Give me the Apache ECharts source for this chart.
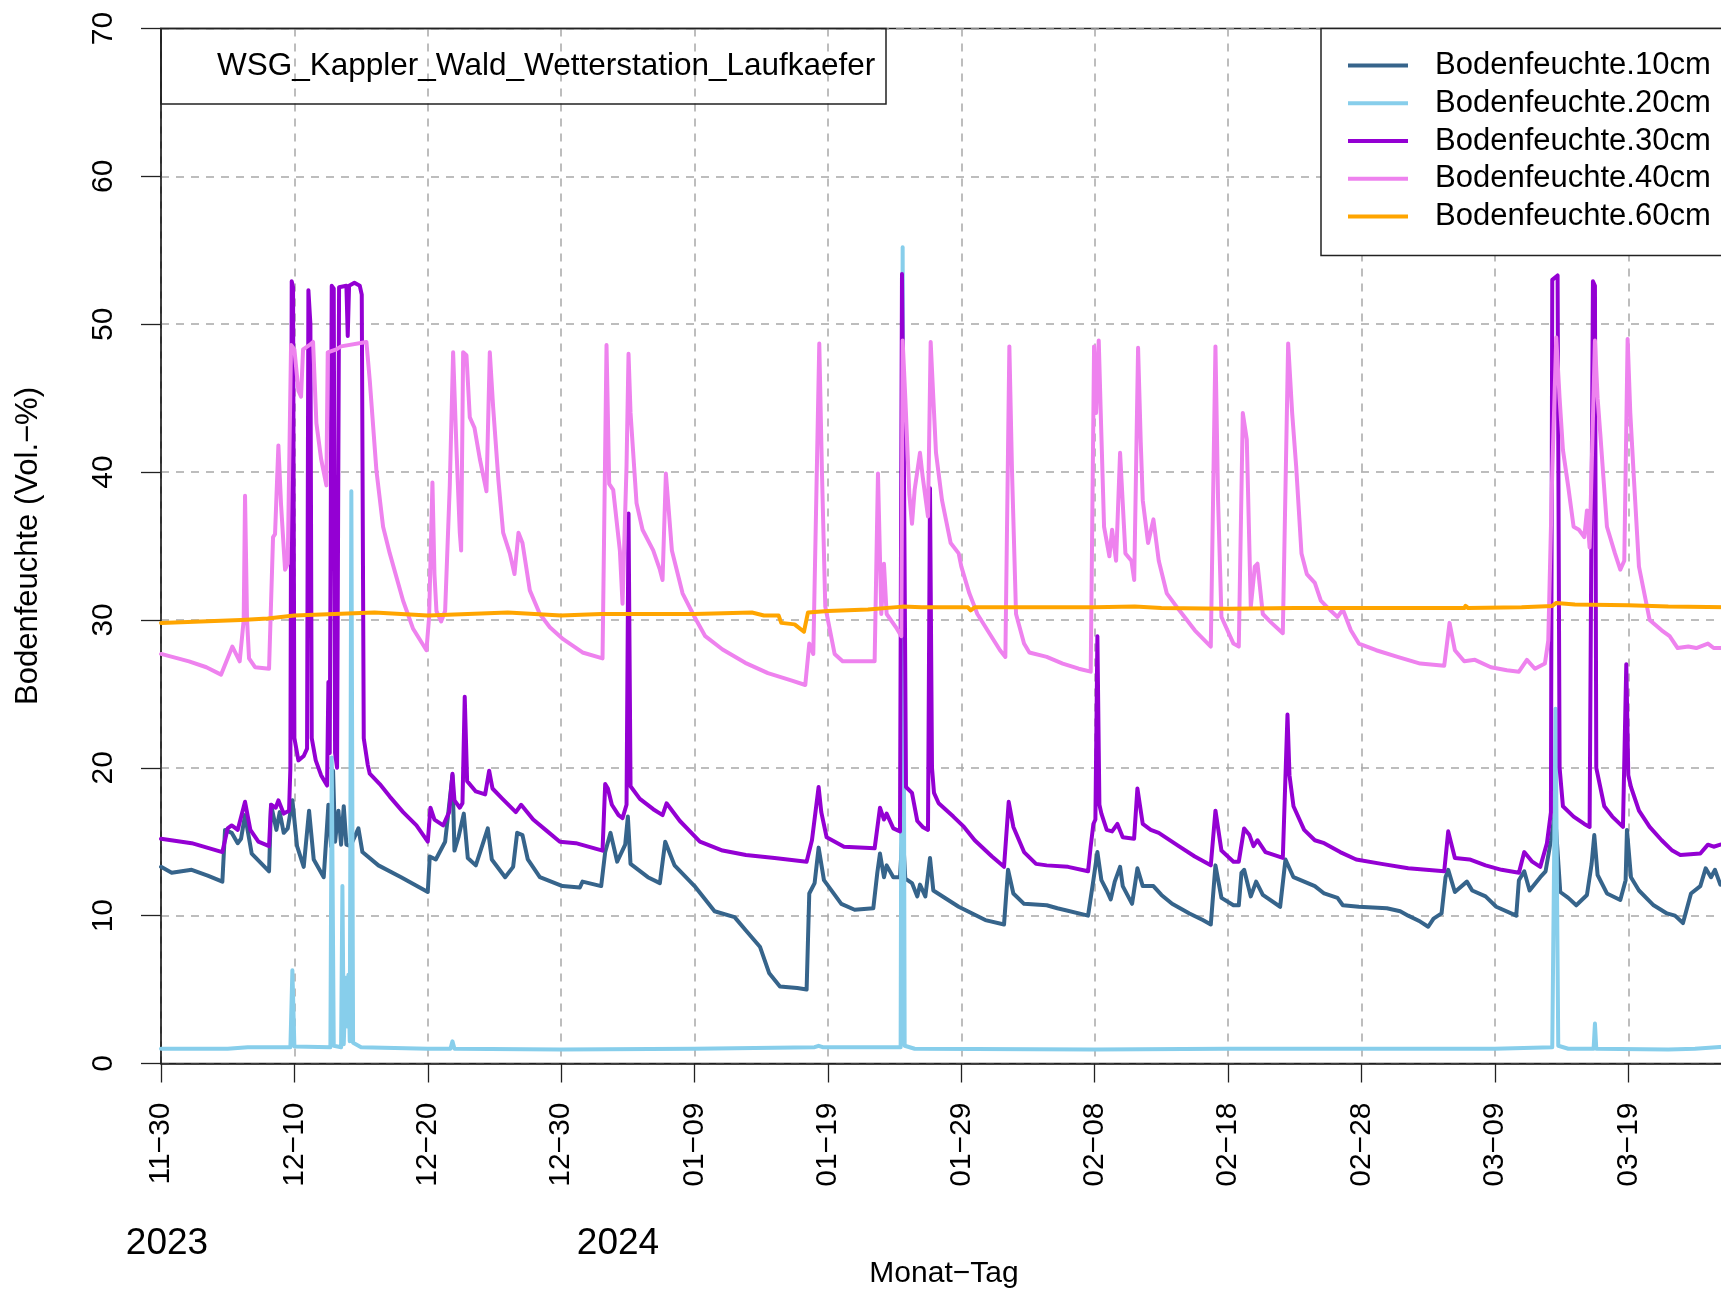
<!DOCTYPE html>
<html>
<head>
<meta charset="utf-8">
<script src="https://cdn.jsdelivr.net/npm/echarts@6.0.0/dist/echarts.min.js"></script>
</head>
<body style="margin:0; overflow:hidden; background:#fff">
<div id="container" style="width:1730px; height:1292px"></div>
<script>
// x = Tage seit 2023-11-30, y = Bodenfeuchte (Vol.-%)
var tickLabels = ['11\u221230', '12\u221210', '12\u221220', '12\u221230', '01\u221209', '01\u221219',
                  '01\u221229', '02\u221208', '02\u221218', '02\u221228', '03\u221209', '03\u221219'];
var seriesNames = ['Bodenfeuchte.10cm', 'Bodenfeuchte.20cm', 'Bodenfeuchte.30cm', 'Bodenfeuchte.40cm', 'Bodenfeuchte.60cm'];
var seriesColors = ['#36648B', '#87CEEB', '#9400D3', '#EE82EE', '#FFA500'];

var bf10 = [[0,13.3],[0.8,12.9],[2.3,13.1],[3.5,12.7],[4.6,12.3],[4.8,15.8],[5.3,15.6],[5.75,14.9],[6.0,15.2],[6.3,16.8],[6.8,14.2],[8.1,13.0],[8.25,17.5],[8.65,15.8],[8.9,17.0],[9.2,15.6],[9.5,15.9],[9.85,17.8],[10.2,14.7],[10.7,13.3],[11.1,17.1],[11.45,13.8],[12.2,12.6],[12.55,17.5],[12.75,14.7],[12.9,19.8],[13.05,15.0],[13.3,17.1],[13.5,14.8],[13.7,17.4],[13.9,14.8],[14.2,14.7],[14.8,15.9],[15.1,14.3],[16.3,13.4],[18.0,12.6],[20.0,11.6],[20.15,14.0],[20.6,13.8],[21.3,15.0],[21.85,19.5],[22.0,14.4],[22.3,15.3],[22.7,16.9],[23.0,13.9],[23.6,13.4],[24.5,15.9],[24.8,13.8],[25.8,12.6],[26.4,13.3],[26.7,15.6],[27.1,15.45],[27.5,13.8],[28.4,12.6],[30.1,12.0],[31.4,11.9],[31.6,12.3],[33.0,12.0],[33.3,14.3],[33.7,15.6],[34.2,13.65],[34.8,14.8],[35.0,16.7],[35.2,13.5],[36.5,12.6],[37.4,12.2],[37.8,15.0],[38.5,13.4],[40.0,12.0],[41.5,10.3],[43.0,9.9],[43.85,9.0],[44.9,7.9],[45.6,6.1],[46.4,5.2],[47.7,5.1],[48.4,5.0],[48.6,11.5],[49.0,12.2],[49.3,14.6],[49.7,12.4],[51.0,10.8],[52.0,10.4],[53.4,10.5],[53.7,12.9],[53.9,14.2],[54.2,12.6],[54.4,13.4],[54.9,12.6],[55.4,12.6],[55.6,15.8],[55.8,12.5],[56.3,12.2],[56.7,11.3],[56.9,12.1],[57.3,11.3],[57.65,13.9],[57.9,11.7],[59.8,10.6],[61.8,9.7],[63.2,9.4],[63.5,13.1],[63.9,11.5],[64.7,10.8],[66.4,10.7],[67.2,10.5],[69.5,10.0],[69.9,12.4],[70.2,14.3],[70.5,12.4],[70.9,11.7],[71.2,11.1],[71.5,12.3],[71.9,13.3],[72.1,12.0],[72.8,10.8],[73.2,13.2],[73.6,12.0],[74.4,12.0],[75.0,11.4],[75.8,10.8],[77.1,10.15],[78.1,9.7],[78.7,9.4],[79.05,13.4],[79.5,11.2],[80.4,10.7],[80.8,10.7],[81.0,12.9],[81.2,13.1],[81.7,11.3],[82.1,12.3],[82.6,11.4],[83.9,10.6],[84.3,13.8],[84.9,12.6],[86.5,12.0],[87.2,11.5],[88.2,11.2],[88.6,10.7],[89.8,10.6],[91.9,10.5],[92.9,10.3],[93.5,10.0],[94.4,9.6],[95.0,9.25],[95.4,9.8],[96.0,10.15],[96.3,12.6],[96.5,13.1],[97.0,11.6],[97.9,12.3],[98.3,11.7],[99.3,11.3],[100.1,10.6],[101.6,10.0],[101.8,12.4],[102.2,13.0],[102.6,11.7],[103.4,12.6],[103.8,13.0],[104.2,15.1],[104.5,17.0],[104.9,11.6],[105.5,11.2],[106.1,10.7],[106.9,11.4],[107.25,13.5],[107.45,15.45],[107.7,12.75],[108.4,11.5],[109.4,11.06],[109.8,12.4],[109.9,15.8],[110.2,12.6],[110.8,11.7],[111.9,10.7],[112.9,10.15],[113.5,10.0],[114.1,9.5],[114.7,11.5],[115.4,12.0],[115.8,13.2],[116.2,12.6],[116.5,13.1],[116.9,12.1],[117.4,12.6]];

var bf20 = [[0,1.0],[5,1.0],[6.5,1.1],[9.7,1.1],[9.85,6.3],[10.0,1.15],[12.7,1.1],[12.8,20.7],[12.95,1.2],[13.5,1.1],[13.6,12.0],[13.7,1.3],[13.85,5.8],[13.95,2.5],[14.05,6.0],[14.15,1.5],[14.27,38.7],[14.4,1.4],[15,1.1],[20,1.0],[21.7,1.0],[21.85,1.5],[22,1.0],[30,0.95],[40,1.0],[49,1.1],[49.3,1.2],[49.6,1.1],[55.45,1.1],[55.6,55.2],[55.75,1.2],[56.5,1.0],[70,0.95],[80,1.0],[90,1.0],[100,1.0],[104.3,1.1],[104.55,24],[104.75,1.2],[105.5,1.0],[107.4,1.0],[107.5,2.7],[107.6,1.0],[113,0.95],[115,1.0],[117.4,1.15]];

var bf30 = [[0,15.2],[2.3,14.9],[4.6,14.3],[5.0,15.9],[5.3,16.1],[5.75,15.8],[6.3,17.7],[6.7,15.8],[7.3,15.0],[8.1,14.7],[8.25,17.5],[8.6,17.3],[8.8,17.8],[9.2,16.9],[9.6,17.1],[9.7,20],[9.8,52.9],[9.9,52.5],[10.0,22.0],[10.3,20.5],[10.7,20.8],[10.95,21.3],[11.05,52.3],[11.2,50],[11.3,22.0],[11.6,20.5],[12.0,19.5],[12.45,18.8],[12.55,25.8],[12.65,21.0],[12.8,52.6],[12.95,52.4],[13.05,21.0],[13.2,20.0],[13.35,52.5],[13.9,52.6],[14.0,49.2],[14.1,52.6],[14.5,52.8],[14.9,52.6],[15.05,52.0],[15.2,22.0],[15.5,20.2],[15.65,19.6],[16.4,18.9],[17.15,18.05],[18.15,17.0],[19.15,16.1],[20.0,15.0],[20.2,17.3],[20.5,16.5],[21.15,16.1],[21.6,17.0],[21.85,19.6],[22.0,17.8],[22.4,17.3],[22.6,17.6],[22.77,24.8],[22.95,19.1],[23.6,18.4],[24.3,18.2],[24.6,19.8],[24.85,18.6],[25.6,17.9],[26.6,17.0],[27.0,17.5],[27.9,16.5],[28.9,15.75],[29.9,15.0],[31.1,14.9],[33.1,14.4],[33.3,18.9],[33.5,18.6],[33.8,17.5],[34.3,16.8],[34.6,16.6],[34.9,17.5],[35.05,37.2],[35.2,18.75],[35.9,17.9],[36.9,17.2],[37.6,16.8],[37.9,17.6],[38.9,16.4],[40.4,15.0],[42.1,14.4],[43.85,14.1],[46.0,13.9],[48.4,13.65],[48.8,15.1],[49.3,18.7],[49.5,17.0],[49.9,15.3],[51.2,14.66],[53.5,14.55],[53.9,17.3],[54.2,16.5],[54.4,16.9],[54.9,15.9],[55.4,15.7],[55.55,53.4],[55.7,40],[55.85,18.7],[56.3,18.3],[56.7,16.4],[57.1,16.0],[57.5,15.8],[57.65,38.9],[57.8,20],[57.95,18.3],[58.3,17.6],[59.4,16.7],[60.2,16.0],[61.0,15.1],[62.3,14.0],[63.2,13.3],[63.55,17.7],[63.9,16.0],[64.7,14.3],[65.6,13.5],[66.4,13.4],[68.0,13.3],[69.5,13.0],[69.7,14.7],[69.9,16.2],[70.05,16.5],[70.2,28.9],[70.35,17.5],[70.5,16.9],[70.9,15.8],[71.3,15.7],[71.7,16.2],[72.1,15.3],[72.95,15.2],[73.2,18.6],[73.6,16.2],[74.2,15.8],[74.8,15.6],[76.3,14.7],[77.5,14.0],[78.7,13.4],[79.05,17.1],[79.5,14.4],[80.4,13.65],[80.8,13.65],[81.2,15.9],[81.6,15.45],[81.9,14.7],[82.2,15.1],[82.8,14.3],[84.1,13.9],[84.45,23.6],[84.6,19.5],[84.9,17.4],[85.7,15.8],[86.5,15.1],[87.2,14.9],[88.4,14.3],[89.6,13.8],[91.5,13.5],[93.5,13.2],[96.2,13.0],[96.5,15.7],[97.0,13.9],[98.1,13.8],[99.3,13.4],[100.5,13.1],[101.8,12.9],[102.2,14.3],[102.8,13.65],[103.4,13.3],[103.9,14.9],[104.2,17.0],[104.3,53.0],[104.7,53.3],[104.85,20],[105.1,17.4],[105.9,16.7],[106.7,16.2],[107.1,16.0],[107.35,52.9],[107.5,52.6],[107.6,20],[108.2,17.4],[108.8,16.7],[109.6,16.0],[109.85,27.0],[110.0,19.5],[110.2,18.7],[110.8,17.1],[111.6,16.0],[112.5,15.1],[113.3,14.4],[113.9,14.1],[115.4,14.2],[115.97,14.8],[116.4,14.66],[116.9,14.8],[117.4,14.9]];

var bf40 = [[0,27.7],[2.1,27.2],[3.4,26.8],[4.5,26.3],[5.35,28.2],[5.9,27.2],[6.2,30],[6.3,38.4],[6.45,30],[6.6,27.4],[7.05,26.8],[8.1,26.7],[8.4,35.6],[8.55,35.8],[8.8,41.8],[9.0,37.8],[9.3,33.4],[9.5,33.8],[9.75,48.6],[10.0,48.3],[10.3,45.5],[10.5,45.1],[10.65,48.3],[11.15,48.6],[11.4,48.8],[11.65,43.3],[12.0,40.9],[12.4,39.1],[12.5,48.1],[13.15,48.3],[13.5,48.5],[15.4,48.8],[15.65,46.2],[16.15,40.1],[16.65,36.3],[17.15,34.5],[18.15,31.3],[18.9,29.4],[19.9,27.95],[20.1,30.2],[20.35,39.3],[20.5,33.1],[20.65,30.6],[21.0,29.9],[21.3,30.6],[21.65,39.1],[21.9,48.1],[22.15,41.6],[22.4,35.9],[22.5,34.7],[22.65,48.1],[22.9,47.9],[23.15,43.7],[23.5,43.0],[23.9,40.9],[24.4,38.7],[24.65,48.1],[24.9,44.4],[25.3,39.4],[25.65,35.9],[26.15,34.5],[26.5,33.1],[26.8,35.9],[27.1,35.2],[27.65,32.0],[28.4,30.4],[29.15,29.5],[30.15,28.7],[31.6,27.8],[33.1,27.4],[33.4,48.6],[33.6,39.2],[33.9,38.8],[34.4,34.7],[34.6,31.1],[34.9,40.4],[35.05,48.0],[35.2,44],[35.65,37.9],[36.1,36.1],[36.9,34.7],[37.4,33.4],[37.6,32.7],[37.85,39.9],[38.3,34.7],[39.1,31.8],[40.0,30.2],[40.8,28.9],[42.1,28.0],[43.8,27.1],[45.5,26.4],[47.3,25.9],[48.3,25.6],[48.6,28.4],[48.9,27.7],[49.35,48.7],[49.55,40],[49.8,30.9],[50.5,27.7],[51.1,27.2],[53.5,27.2],[53.75,39.9],[54.0,30.4],[54.2,33.8],[54.4,30.4],[55.1,29.5],[55.5,28.9],[55.6,48.9],[55.8,45],[56.1,38.5],[56.3,36.5],[56.5,38.8],[56.9,41.3],[57.1,39.7],[57.5,37.0],[57.7,48.8],[57.9,45],[58.1,41.3],[58.55,38.1],[59.2,35.2],[59.8,34.5],[60.0,33.6],[60.6,31.8],[61.2,30.4],[62.1,29.1],[62.9,27.95],[63.3,27.5],[63.6,48.5],[63.8,40],[64.1,30.4],[64.7,28.4],[65.1,27.8],[66.4,27.5],[67.6,27.05],[68.8,26.7],[69.7,26.5],[69.95,48.5],[70.1,44],[70.3,48.9],[70.45,44],[70.7,36.3],[71.1,34.3],[71.3,36.1],[71.6,34.0],[71.9,41.3],[72.3,34.5],[72.75,34.0],[72.96,32.7],[73.25,48.4],[73.45,42],[73.6,38.1],[74.0,35.2],[74.4,36.8],[74.8,34.0],[75.4,31.8],[76.3,30.7],[77.5,29.3],[78.7,28.2],[79.05,48.5],[79.25,38],[79.5,30.2],[80.4,28.4],[80.8,28.2],[81.1,44.0],[81.4,42.2],[81.7,30.9],[82.0,33.6],[82.2,33.8],[82.6,30.4],[83.25,29.8],[84.1,29.1],[84.5,48.7],[84.8,44],[85.1,40.4],[85.5,34.5],[85.9,33.1],[86.5,32.5],[86.95,31.3],[87.6,30.7],[88.2,30.2],[88.6,30.7],[89.2,29.3],[89.8,28.4],[91.1,27.95],[92.7,27.5],[94.4,27.05],[96.2,26.9],[96.6,29.8],[97.0,27.95],[97.7,27.2],[98.5,27.3],[99.7,26.8],[100.9,26.6],[101.8,26.5],[102.4,27.3],[103.0,26.7],[103.75,27.05],[104.0,28.6],[104.3,40],[104.6,49.1],[104.85,45],[105.1,41.5],[105.5,39.0],[105.9,36.3],[106.3,36.1],[106.7,35.6],[106.9,37.4],[107.1,34.9],[107.5,48.9],[107.7,45],[107.9,42.6],[108.4,36.3],[109.0,34.5],[109.4,33.4],[109.7,34.0],[109.95,49.0],[110.15,44],[110.4,39.9],[110.8,33.6],[111.6,30.0],[112.5,29.3],[113.1,28.9],[113.7,28.1],[114.5,28.2],[115.1,28.1],[115.97,28.4],[116.4,28.1],[117.4,28.1]];

var bf60 = [[0,29.8],[3,29.9],[6,30.0],[8,30.1],[10,30.3],[13,30.4],[16,30.5],[20,30.3],[23,30.4],[26,30.5],[30,30.3],[33,30.4],[36,30.4],[40,30.4],[44.3,30.5],[45.2,30.3],[46.3,30.3],[46.5,29.8],[47.5,29.7],[48.2,29.2],[48.5,30.5],[50,30.6],[53,30.7],[55.6,30.9],[57,30.85],[60.5,30.85],[60.7,30.65],[61,30.85],[65,30.85],[70,30.85],[73,30.9],[75,30.8],[80,30.75],[85,30.8],[90,30.8],[95,30.8],[97.7,30.8],[97.8,30.95],[98,30.8],[102,30.85],[104.3,30.95],[104.6,31.15],[106,31.05],[110,31.0],[113,30.9],[117.4,30.85]];

var FONT = '"Liberation Sans", Arial, sans-serif';
var dataSets = [bf10, bf20, bf30, bf40, bf60];

var dom = document.getElementById('container');
var myChart = echarts.init(dom);

var option = {
    animation: false,
    backgroundColor: '#fff',
    color: seriesColors,
    grid: {
        left: 161, right: 3, top: 28.5, bottom: 228.5,
        outerBoundsMode: 'none', containLabel: false,
        show: true, borderColor: '#222', borderWidth: 1.5, backgroundColor: 'transparent'
    },
    legend: {
        left: 1321, top: 28.5, orient: 'vertical',
        icon: 'rect', itemWidth: 60, itemHeight: 4, itemGap: 0,
        padding: [18, 14, 20, 27],
        backgroundColor: '#fff', borderColor: '#222', borderWidth: 1.5,
        selectedMode: false,
        textStyle: { fontSize: 31, fontFamily: FONT, color: '#000', lineHeight: 37.8, padding: [0, 0, 0, 22] },
        data: seriesNames
    },
    xAxis: {
        type: 'value', min: 0, max: 117.4, interval: 10,
        name: 'Monat\u2212Tag', nameLocation: 'middle', nameGap: 195,
        nameTextStyle: { fontSize: 30, fontFamily: FONT, color: '#000' },
        axisLine: { show: true, onZero: false, lineStyle: { color: '#222', width: 1.5 } },
        axisTick: { show: true, length: 19, lineStyle: { color: '#222', width: 1.3 } },
        axisLabel: {
            rotate: 90, margin: 39, fontSize: 30, fontFamily: FONT, color: '#000',
            formatter: function (v) {
                var i = Math.round(v / 10);
                return (Math.abs(v - i * 10) < 1e-6 && tickLabels[i]) ? tickLabels[i] : '';
            }
        },
        splitLine: { show: true, lineStyle: { color: '#a8a8a8', width: 1.5, type: [8, 7] } }
    },
    yAxis: {
        type: 'value', min: 0, max: 70, interval: 10,
        name: 'Bodenfeuchte (Vol.\u2212%)', nameLocation: 'middle', nameGap: 117, nameRotate: 90,
        nameTextStyle: { fontSize: 31, fontFamily: FONT, color: '#000' },
        axisLine: { show: true, lineStyle: { color: '#222', width: 1.5 } },
        axisTick: { show: true, length: 20, lineStyle: { color: '#222', width: 1.3 } },
        axisLabel: { rotate: 90, margin: 42, fontSize: 30, fontFamily: FONT, color: '#000' },
        splitLine: { show: true, lineStyle: { color: '#a8a8a8', width: 1.5, type: [8, 7] } }
    },
    graphic: [
        {
            type: 'rect', z: 100,
            shape: { x: 161, y: 28.5, width: 725, height: 75.5 },
            style: { fill: 'none', stroke: '#222', lineWidth: 1.5 }
        },
        {
            type: 'text', z: 100, x: 217, y: 66,
            style: { text: 'WSG_Kappler_Wald_Wetterstation_Laufkaefer', font: '31.5px ' + FONT, fill: '#000',
                     textAlign: 'left', textVerticalAlign: 'middle', align: 'left', verticalAlign: 'middle' }
        },
        {
            type: 'text', x: 167, y: 1244,
            style: { text: '2023', font: '37px ' + FONT, fill: '#000',
                     textAlign: 'center', textVerticalAlign: 'middle', align: 'center', verticalAlign: 'middle' }
        },
        {
            type: 'text', x: 618, y: 1244,
            style: { text: '2024', font: '37px ' + FONT, fill: '#000',
                     textAlign: 'center', textVerticalAlign: 'middle', align: 'center', verticalAlign: 'middle' }
        }
    ],
    series: seriesNames.map(function (name, i) {
        return {
            name: name,
            type: 'line',
            data: dataSets[i],
            showSymbol: false,
            symbol: 'none',
            clip: true,
            itemStyle: { color: seriesColors[i] },
            lineStyle: { color: seriesColors[i], width: 4, join: 'round', cap: 'round' }
        };
    })
};

if (option && typeof option === 'object') {
    myChart.setOption(option, true);
}
</script>
</body>
</html>
